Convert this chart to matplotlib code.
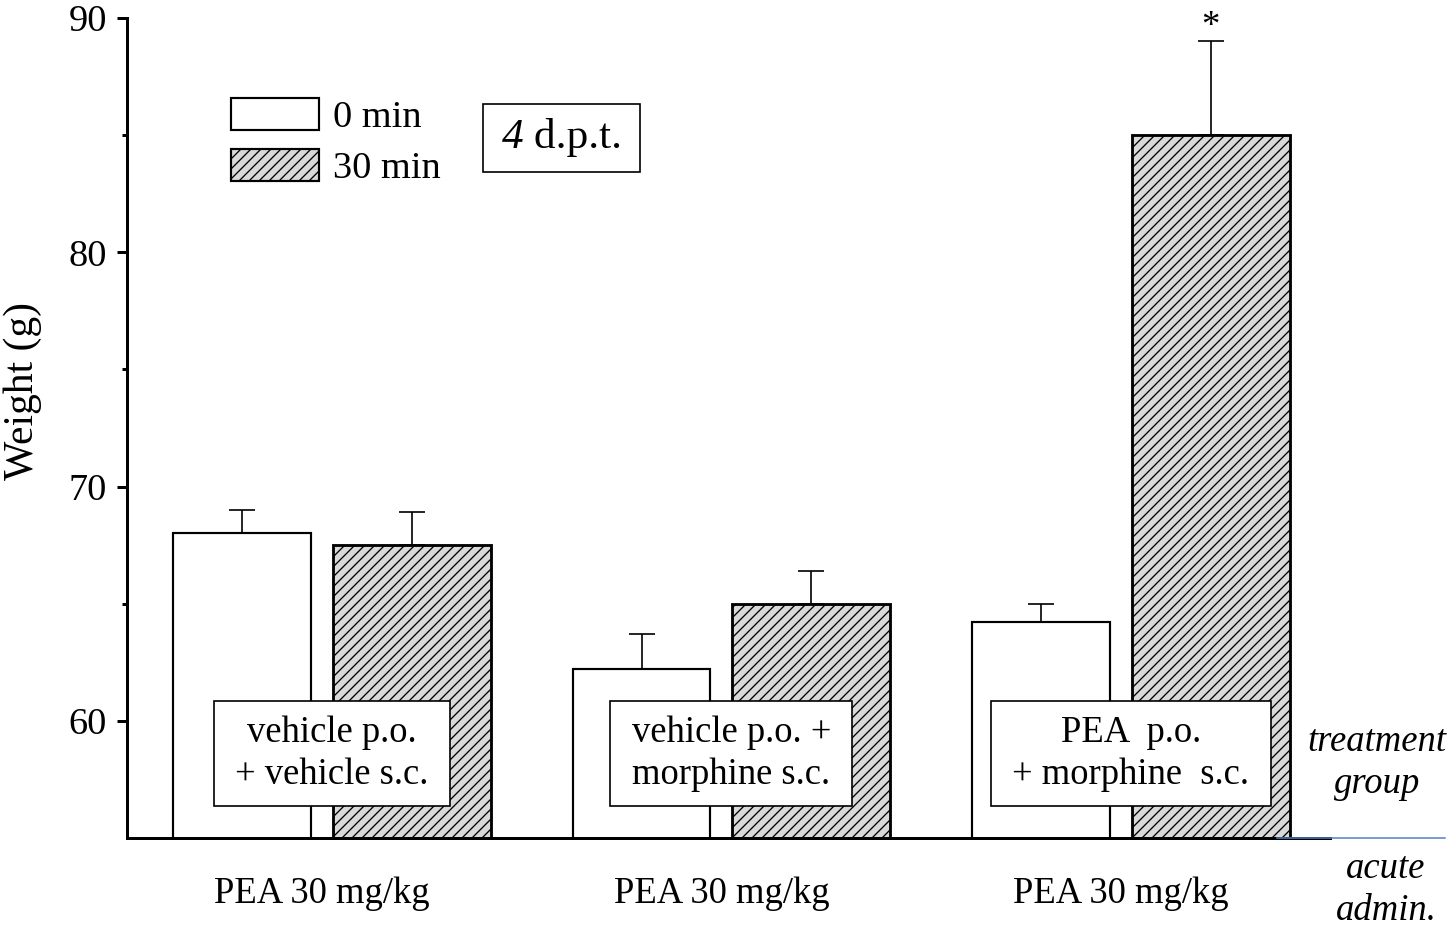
import matplotlib
matplotlib.use('Agg')
import matplotlib.pyplot as plt
from matplotlib.patches import Patch
from matplotlib.offsetbox import TextArea, HPacker, AnchoredOffsetbox
import numpy as np

plt.rcParams['font.family'] = ['Liberation Serif', 'DejaVu Serif']
plt.rcParams['hatch.linewidth'] = 0.8

# data
groups = ['PEA 30 mg/kg', 'PEA 30 mg/kg', 'PEA 30 mg/kg']
treatments = ['vehicle p.o.\n+ vehicle s.c.',
              'vehicle p.o. +\nmorphine s.c.',
              'PEA  p.o.\n+ morphine  s.c.']
weight_0 = [68.0, 62.2, 64.2]
err_0 = [1.0, 1.5, 0.8]
weight_30 = [67.5, 65.0, 85.0]
err_30 = [1.4, 1.4, 4.0]
signif_30 = ['', '', '*']

x = np.arange(len(groups))

fig = plt.figure(figsize=(1451 / 120, 926 / 120), dpi=120)
ax = fig.add_axes([0.0875, 0.095, 0.829, 0.8856])

ax.bar(x - 0.2, weight_0, width=0.345, color='white',
       edgecolor='black', linewidth=1.3, zorder=2)
ax.errorbar(x - 0.2, weight_0, yerr=[np.zeros(3), err_0], fmt='none',
            ecolor='black', elinewidth=1.0, capsize=8, capthick=1.0, zorder=3)
ax.bar(x + 0.225, weight_30, width=0.396, color='#d9d9d9', hatch='////',
       edgecolor='black', linewidth=1.7, zorder=2)
ax.errorbar(x + 0.225, weight_30, yerr=[np.zeros(3), err_30], fmt='none',
            ecolor='black', elinewidth=1.0, capsize=8, capthick=1.0, zorder=3)

for xi, top, s in zip(x + 0.225, np.add(weight_30, err_30), signif_30):
    if s:
        ax.text(xi, top + 0.62, s, ha='center', va='center', fontsize=22)

for xi, t in zip(x + 0.025, treatments):
    ax.text(xi, 58.6, t, ha='center', va='center', fontsize=22,
            linespacing=1.27, zorder=5,
            bbox=dict(boxstyle='square,pad=0.58', mutation_aspect=0.68,
                      facecolor='white', edgecolor='black', linewidth=1.0))

ax.set_xlim(-0.488, 2.523)
ax.set_ylim(55, 90)
ax.set_yticks([60, 70, 80, 90])
ax.set_yticks([65, 75, 85], minor=True)
ax.set_xticks(x)
ax.set_xticklabels(groups, fontsize=22)
ax.tick_params(axis='x', length=0, pad=23)
ax.tick_params(axis='y', which='major', length=6, width=1.8, labelsize=23, pad=6)
ax.tick_params(axis='y', which='minor', length=3, width=1.8)

for side in ['top', 'right']:
    ax.spines[side].set_visible(False)
for side in ['left', 'bottom']:
    ax.spines[side].set_linewidth(1.8)

ax.set_ylabel('Weight (g)', fontsize=25)
ax.yaxis.set_label_coords(-0.071, 0.545)

handles = [Patch(facecolor='white', edgecolor='black', linewidth=1.3),
           Patch(facecolor='#d9d9d9', edgecolor='black', hatch='////', linewidth=1.3)]
ax.legend(handles, ['0 min', '30 min'], loc='upper left',
          bbox_to_anchor=(0.0737, 0.921), frameon=False, fontsize=23,
          handlelength=2.3, handleheight=0.9, handletextpad=0.35,
          labelspacing=0.36, borderaxespad=0)

# "4 d.p.t." box, 4 in italics
dpt = HPacker(children=[TextArea('4', textprops=dict(fontsize=26, style='italic')),
                        TextArea(' d.p.t.', textprops=dict(fontsize=26))],
              align='baseline', pad=0, sep=0)
dpt_box = AnchoredOffsetbox(loc='center', child=dpt, pad=0, borderpad=0,
                            frameon=True, prop=dict(size=26),
                            bbox_to_anchor=(0.3616, 0.8537),
                            bbox_transform=ax.transAxes)
dpt_box.patch.set_boxstyle('square', pad=0.42)
dpt_box.patch.set_mutation_aspect(0.82)
dpt_box.patch.set_linewidth(1.0)
ax.add_artist(dpt_box)

ax.plot([0.956, 1.0956], [0, 0], transform=ax.transAxes, color='#4f7fbf',
        linewidth=0.9, clip_on=False, zorder=6)

fig.text(1377 / 1451, 1 - 763 / 926, 'treatment\ngroup', ha='center',
         va='center', fontsize=22, style='italic', linespacing=1.3)
fig.text(1386 / 1451, 1 - 890 / 926, 'acute\nadmin.', ha='center',
         va='center', fontsize=22, style='italic', linespacing=1.3)

fig.savefig('out.png', dpi=120)
